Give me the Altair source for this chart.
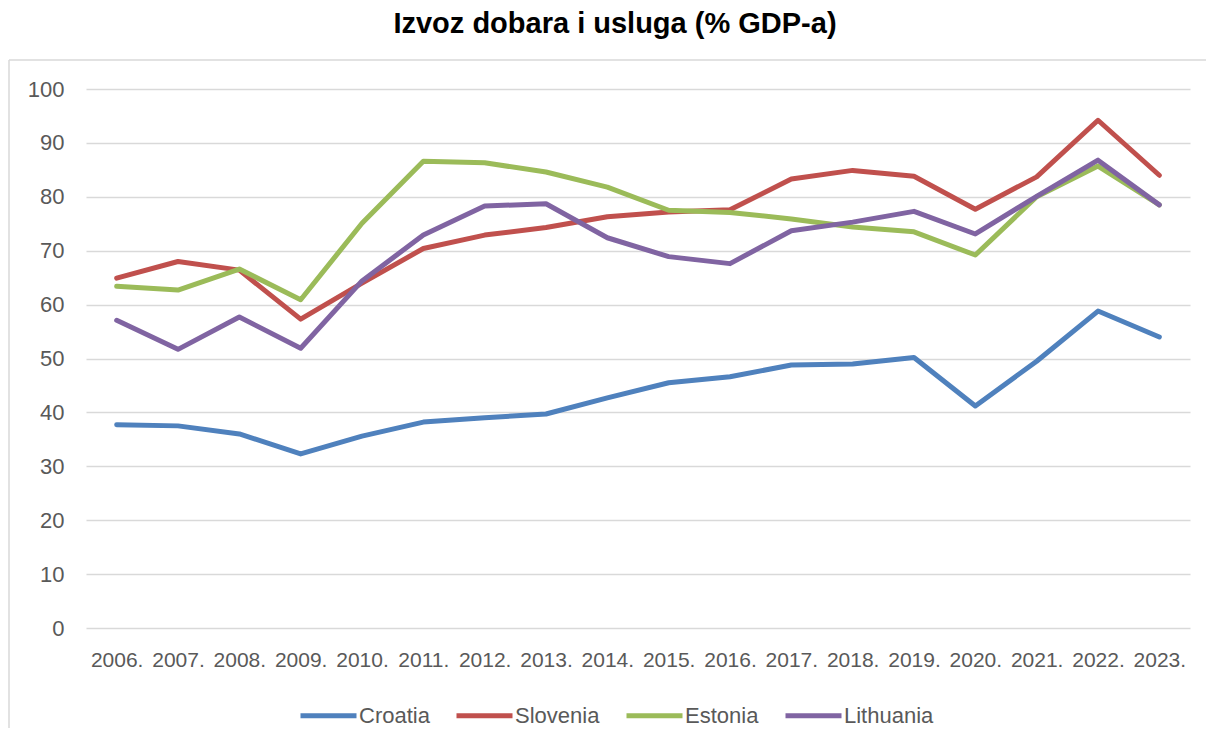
import altair as alt
import pandas as pd

years = ["2006.", "2007.", "2008.", "2009.", "2010.", "2011.", "2012.", "2013.", "2014.",
         "2015.", "2016.", "2017.", "2018.", "2019.", "2020.", "2021.", "2022.", "2023."]
countries = ["Croatia", "Slovenia", "Estonia", "Lithuania"]
colors = ["#4F81BD", "#C0504D", "#9BBB59", "#8064A2"]

croatia = [37.7, 37.5, 36.0, 32.3, 35.6, 38.2, 39.0, 39.7, 42.7, 45.5, 46.6, 48.8, 49.0, 50.2, 41.2, 49.5, 58.8, 54.0]
slovenia = [64.9, 68.0, 66.4, 57.3, 64.0, 70.4, 72.9, 74.3, 76.3, 77.2, 77.6, 83.3, 84.9, 83.8, 77.7, 83.7, 94.2, 84.0]
estonia = [63.4, 62.7, 66.6, 60.9, 75.1, 86.6, 86.3, 84.6, 81.8, 77.5, 77.1, 75.9, 74.4, 73.5, 69.2, 80.0, 85.7, 78.5]
lithuania = [57.1, 51.7, 57.7, 51.9, 64.4, 72.9, 78.3, 78.7, 72.4, 68.9, 67.6, 73.7, 75.3, 77.3, 73.1, 80.1, 86.8, 78.5]

series = [croatia, slovenia, estonia, lithuania]
rows = []
for i, (name, vals) in enumerate(zip(countries, series)):
    for y, v in zip(years, vals):
        rows.append({"year": y, "value": v, "country": name, "order": i})
df = pd.DataFrame(rows)

FONT = "Liberation Sans"

lines = alt.Chart(df).mark_line(strokeWidth=5, strokeCap="round", strokeJoin="round").encode(
    x=alt.X("year:O", sort=years, scale=alt.Scale(type="point", padding=0.5),
            axis=alt.Axis(title=None, labelAngle=0, ticks=False, tickSize=0, domain=False,
                          grid=False, labelPadding=21, labelFontSize=21, labelFont=FONT,
                          labelColor="#595959", labelOverlap=False)),
    y=alt.Y("value:Q", scale=alt.Scale(domain=[0, 100], nice=False),
            axis=alt.Axis(title=None, values=list(range(0, 101, 10)), ticks=False, tickSize=0,
                          domain=False, grid=True, gridColor="#d9d9d9", gridWidth=1.5,
                          labelPadding=22, labelFontSize=22, labelFont=FONT,
                          labelColor="#595959")),
    color=alt.Color("country:N", sort=countries,
                    scale=alt.Scale(domain=countries, range=colors),
                    legend=alt.Legend(title=None, orient="none", direction="horizontal",
                                      legendX=212, legendY=596, symbolType="stroke",
                                      symbolSize=3136, symbolStrokeWidth=5,
                                      labelFontSize=22, labelFont=FONT, labelColor="#595959",
                                      labelOffset=0, columnPadding=16)),
    order=alt.Order("order:Q"),
)

single = alt.Data(values=[{"f": 1}])
frame_top = alt.Chart(single).mark_rule(stroke="#d9d9d9", strokeWidth=1.5).encode(
    x=alt.value(-77), x2=alt.value(1140), y=alt.value(-29),
)
frame_left = alt.Chart(single).mark_rule(stroke="#d9d9d9", strokeWidth=1.5).encode(
    x=alt.value(-77), y=alt.value(-29), y2=alt.value(665),
)

chart = alt.layer(frame_top, frame_left, lines).properties(
    width=1104,
    height=539,
    title=alt.TitleParams(
        "Izvoz dobara i usluga (% GDP-a)",
        font=FONT, fontSize=29, fontWeight="bold", color="#000000",
        anchor="middle", dx=-23, offset=20,
    ),
    autosize=alt.AutoSizeParams(type="none"),
    padding={"left": 78, "top": 81, "right": 16, "bottom": 100},
).configure_view(stroke=None)

chart.save("out.html", embed_options={"renderer": "svg", "actions": False})
